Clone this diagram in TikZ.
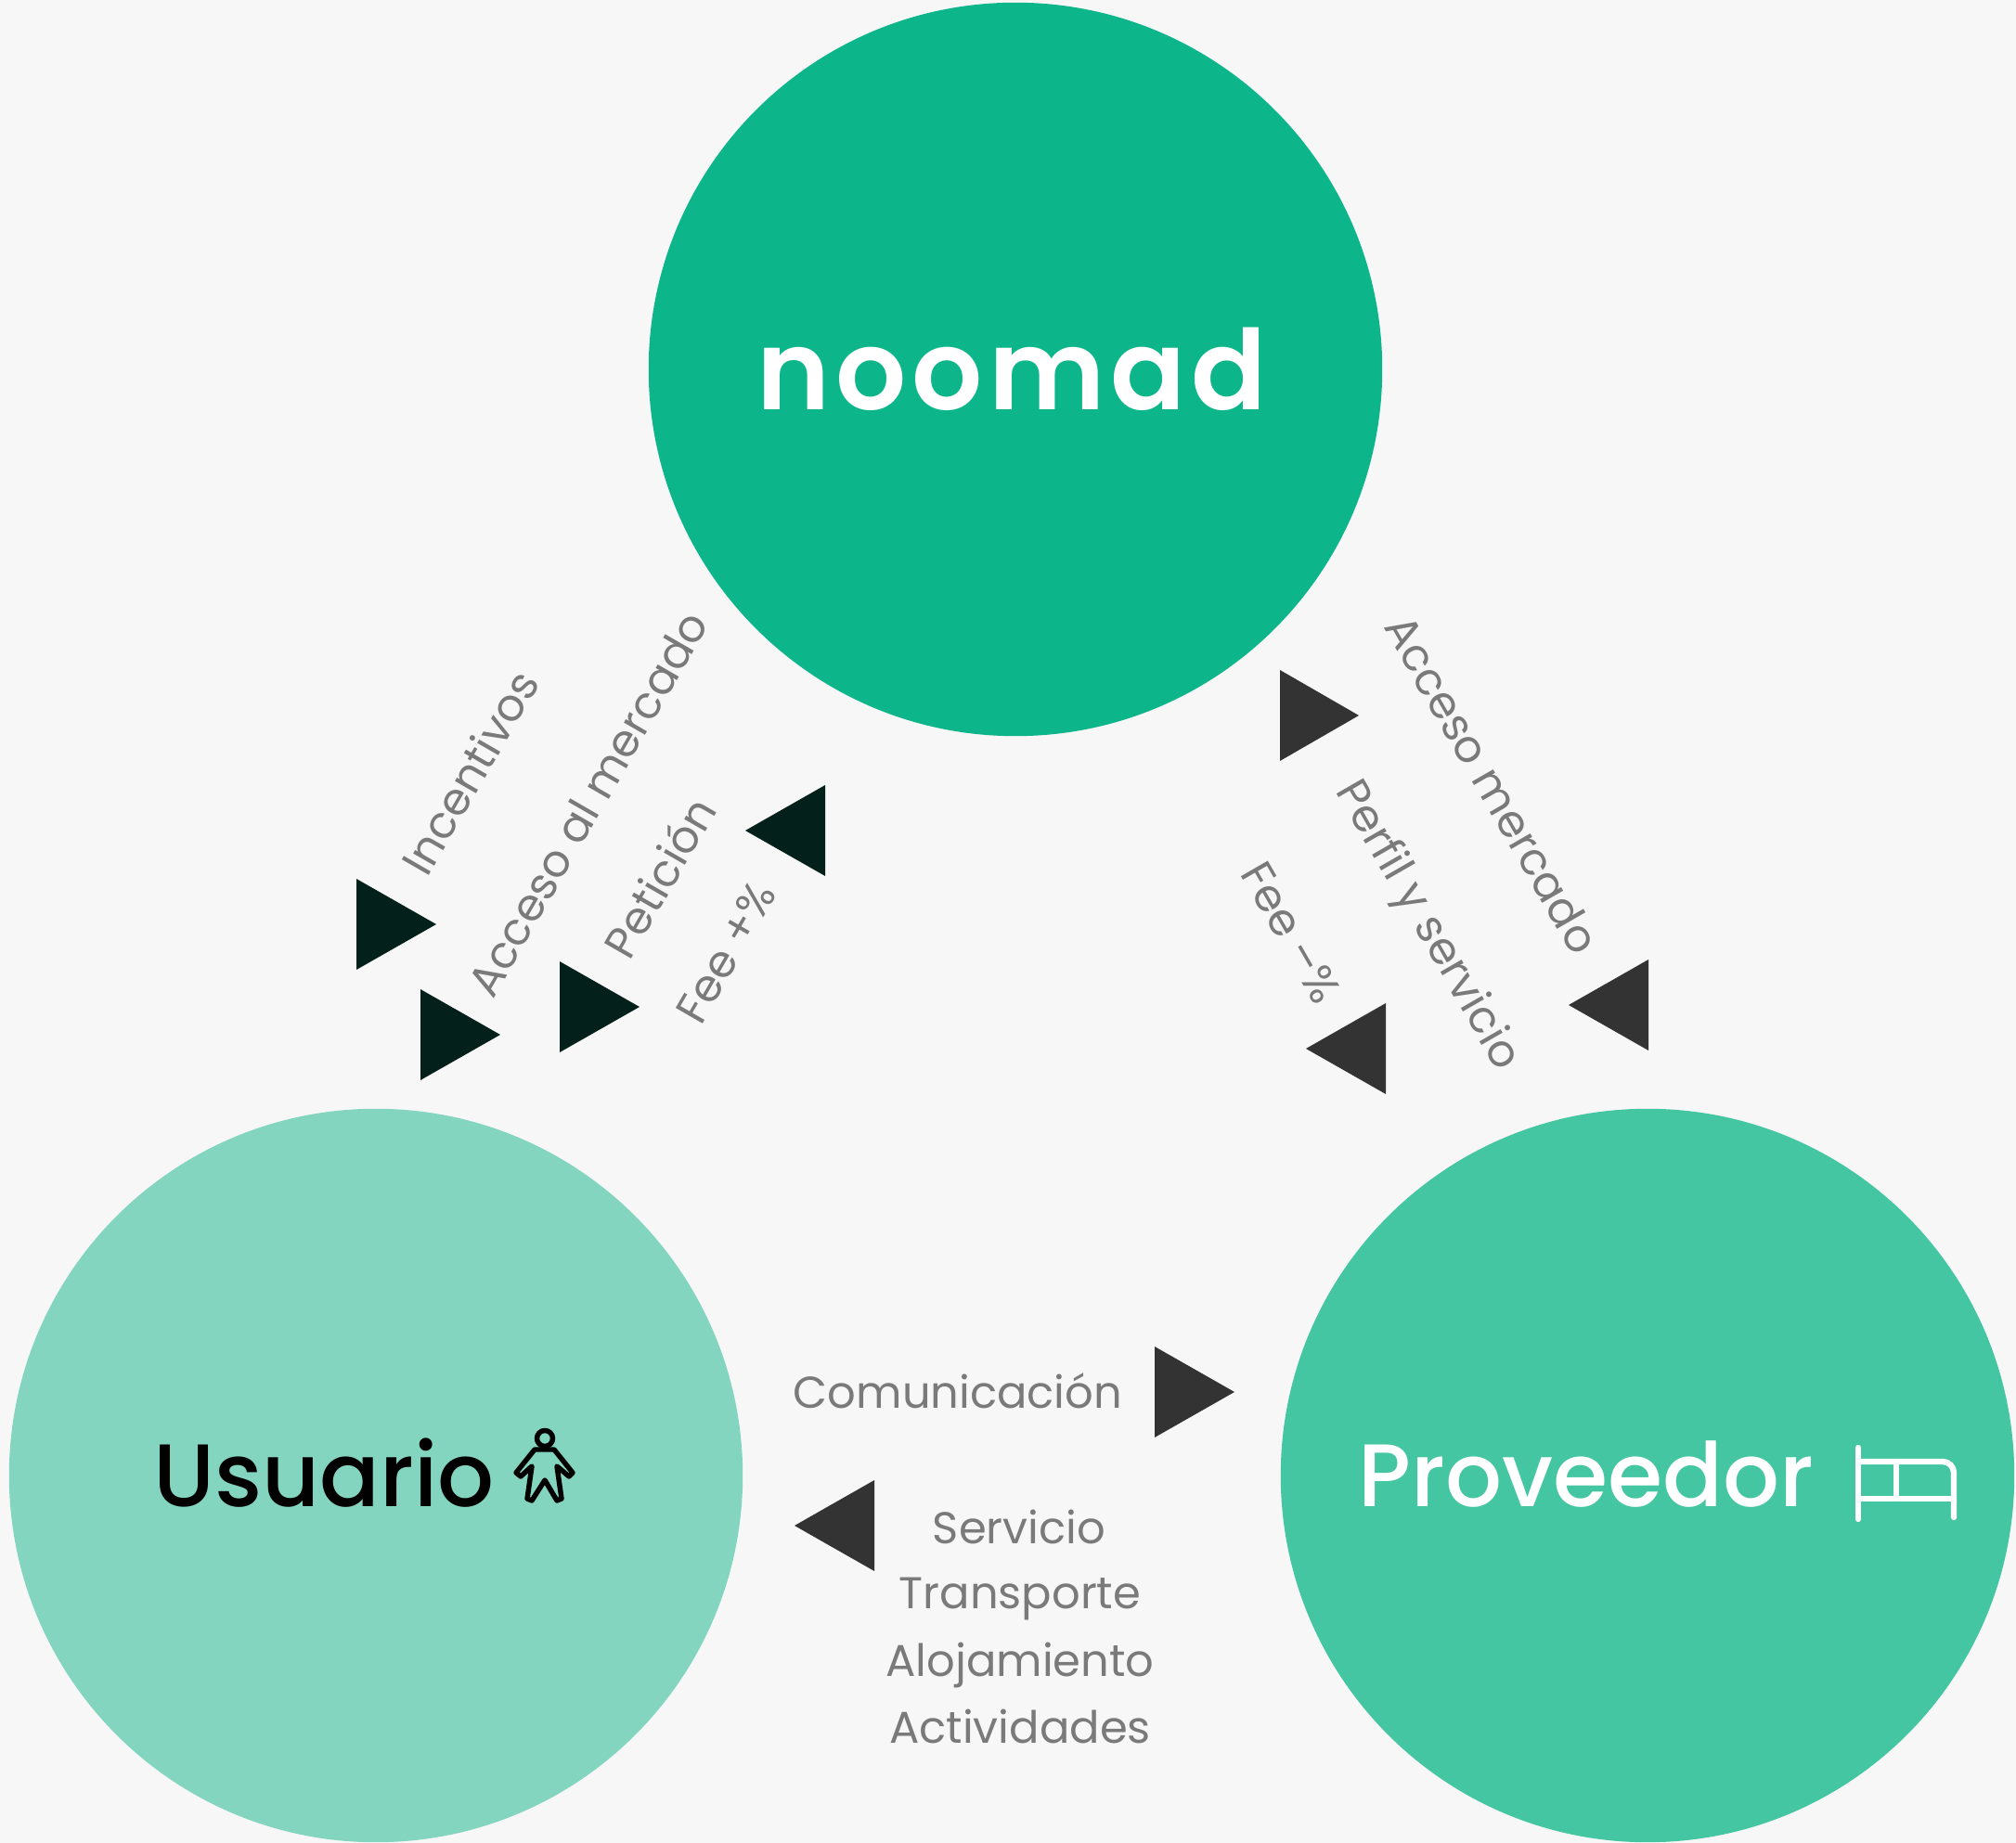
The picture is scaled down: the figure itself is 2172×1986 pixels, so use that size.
\documentclass[tikz,border=0pt]{standalone}
\usepackage{fontspec}
\setmainfont{Poppins}
\newfontfamily\popmedia{Poppins Medium}
\newfontfamily\poplogo[LetterSpace=5]{Poppins SemiBold}
\definecolor{fondo}{HTML}{F7F7F7}
\definecolor{verdea}{HTML}{0DB68A}
\definecolor{verdeb}{HTML}{84D5C0}
\definecolor{verdec}{HTML}{44C6A2}
\definecolor{oscuro}{HTML}{03211A}
\definecolor{gris}{HTML}{333333}
\definecolor{texto}{HTML}{7A7A7A}
\tikzset{
	actor/.style={circle,minimum size=7.9cm,inner sep=0pt},
	etiqueta/.style={text=texto,font=\fontsize{13.65}{16}\selectfont,inner sep=0pt},
	lista/.style={etiqueta,anchor=base},
	icono/.style={line width=1.55pt,line cap=round,line join=round},
	cama/.style={icono,white,line width=1.8pt},
}

\begin{document}
\begin{tikzpicture}[x=0.01cm,y=-0.01cm]
		\useasboundingbox[fill=fondo] (0,0) rectangle (2172,1986);

		\node[actor,fill=verdea] (noomad) at (1094,398) {};
		\node[actor,fill=verdeb] (usuario) at (405,1590) {};
		\node[actor,fill=verdec] (proveedor) at (1775,1590) {};

		\node[text=white,font=\fontsize{34}{40}\poplogo\selectfont] (logo) at (1090,398) {noomad};
		\node[text=black,font=\fontsize{27.2}{30}\popmedia\selectfont] (usuariotxt) at (349,1587) {Usuario};
		\node[text=white,font=\fontsize{27.2}{30}\popmedia\selectfont] (proveedortxt) at (1709,1589) {Proveedor};

		% triangulos: punta
		\foreach \x/\y in {470/996,539/1115,689/1085}
			\fill[oscuro] (\x,\y) -- ++(-86,-49) -- ++(0,98) -- cycle;
		\fill[oscuro] (803,895) -- ++(86,-49) -- ++(0,98) -- cycle;
		\fill[gris] (1464,771) -- ++(-85,-49) -- ++(0,98) -- cycle;
		\fill[gris] (1330,1500) -- ++(-86,-49) -- ++(0,98) -- cycle;
		\foreach \x/\y in {1690/1083,1407/1130,856/1644}
			\fill[gris] (\x,\y) -- ++(86,-49) -- ++(0,98) -- cycle;

		\node[etiqueta,rotate=60] (incentivos) at (506,832) {Incentivos};
		\node[etiqueta,rotate=60] (accesoal) at (633,866) {Acceso al mercado};
		\node[etiqueta,rotate=60] (peticion) at (710,945) {Petición};
		\node[etiqueta,rotate=60] (feemas) at (782,1026) {Fee +\%};
		\node[etiqueta,rotate=-60] (acceso) at (1608,845) {Acceso mercado};
		\node[etiqueta,rotate=-60] (perfil) at (1537,998) {Perfil y servicio};
		\node[etiqueta,rotate=-60] (feemenos) at (1391,1005) {Fee –\%};
		\node[etiqueta] (comunicacion) at (1032,1499) {Comunicación};
		\node[lista] (servicio) at (1098,1664) {Servicio};
		\node[lista] (transporte) at (1099,1734) {Transporte};
		\node[lista] (alojamiento) at (1099,1807) {Alojamiento};
		\node[lista] (actividades) at (1099,1878) {Actividades};

		% iconos
		\draw[icono,black] (587,1550) circle (8.5);
		\draw[icono,black] (576,1562) -- (597,1562) -- (617,1587) -- (613,1591) -- (600,1580) -- (605,1615) -- (600,1617) -- (587,1595) -- (573,1617) -- (568,1615) -- (573,1580) -- (561,1591) -- (556,1587) -- cycle;
		\draw[cama] (2002,1560) -- (2002,1637);
		\draw[cama] (2002,1575) -- (2093,1575) arc (-90:0:12) -- (2105,1635);
		\draw[cama] (2002,1615) -- (2105,1615);
		\draw[cama] (2043,1575) -- (2043,1615);
	\end{tikzpicture}
\end{document}
